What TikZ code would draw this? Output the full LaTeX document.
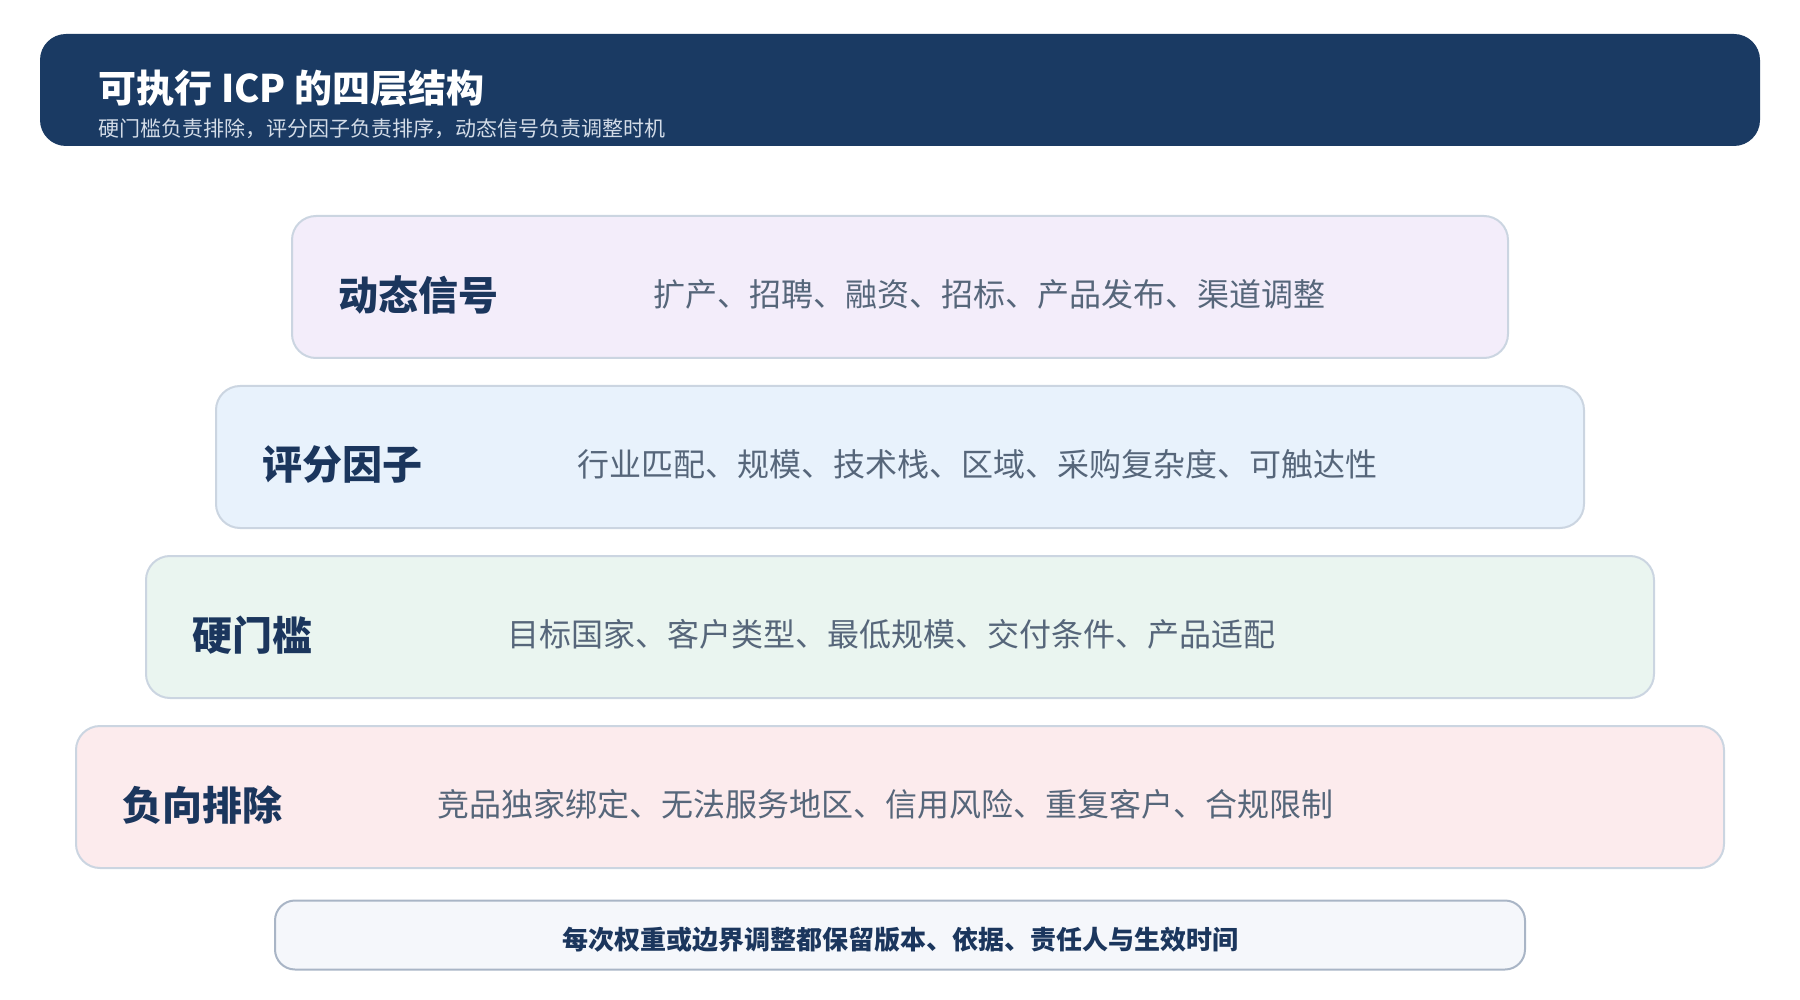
\documentclass[tikz,border=0pt]{standalone}
\usepackage{fontspec}
\setmainfont{Noto Sans CJK SC}
\usetikzlibrary{calc}

\definecolor{headblue}{HTML}{1A3A63}
\definecolor{subgrey}{HTML}{D3DCE8}
\definecolor{titleblue}{HTML}{1B365D}
\definecolor{descgrey}{HTML}{56667A}
\definecolor{layerline}{HTML}{CBD5E1}
\definecolor{noteline}{HTML}{A9B5C6}
\definecolor{signalfill}{HTML}{F3EDFA}
\definecolor{scorefill}{HTML}{E8F2FC}
\definecolor{gatefill}{HTML}{EAF5F0}
\definecolor{excludefill}{HTML}{FCEBED}
\definecolor{notefill}{HTML}{F5F7FB}

\begin{document}
\begin{tikzpicture}[x = 0.5pt, y = -0.5pt, line cap = round, line join = round,
  layer/.style = {draw = layerline, line width = 1pt, rounded corners = 12pt,
    inner sep = 0, minimum height = 71pt},
  layertitle/.style = {anchor = west, inner sep = 0, font = \bfseries\fontsize{20pt}{24pt}\selectfont,
    text = titleblue},
  layertext/.style = {anchor = west, inner sep = 0, font = \fontsize{16pt}{20pt}\selectfont,
    text = descgrey}]
  \useasboundingbox (0, 0) rectangle (1800, 1000);

  % header band
  \node[fill = headblue, rounded corners = 13pt, minimum width = 860pt,
  minimum height = 56pt, inner sep = 0] (head) at (900, 90) {};
  \node[anchor = base west, inner sep = 0, text = white,
  font = \bfseries\fontsize{19pt}{23pt}\selectfont] (headtitle) at (98, 102.5)
  {可执行 ICP 的四层结构};
  \node[anchor = base west, inner sep = 0, text = subgrey,
  font = \fontsize{10.5pt}{13pt}\selectfont] (headsub) at (98, 137)
  {硬门槛负责排除，评分因子负责排序，动态信号负责调整时机};

  % the four layers, narrowest on top
  \node[layer, fill = signalfill, minimum width = 608pt] (signal) at (900, 287) {};
  \node[layer, fill = scorefill, minimum width = 684pt] (score) at (900, 457) {};
  \node[layer, fill = gatefill, minimum width = 754pt] (gate) at (900, 627) {};
  \node[layer, fill = excludefill, minimum width = 824pt] (exclude) at (900, 797) {};

  \node[layertitle] (signaltitle) at ($(signal.west) + (47, 8)$) {动态信号};
  \node[layertext] (signaltext) at ($(signal.west) + (362, 7)$)
  {扩产、招聘、融资、招标、产品发布、渠道调整};

  \node[layertitle] (scoretitle) at ($(score.west) + (47, 8)$) {评分因子};
  \node[layertext] (scoretext) at ($(score.west) + (362, 7)$)
  {行业匹配、规模、技术栈、区域、采购复杂度、可触达性};

  \node[layertitle] (gatetitle) at ($(gate.west) + (47, 8)$) {硬门槛};
  \node[layertext] (gatetext) at ($(gate.west) + (362, 7)$)
  {目标国家、客户类型、最低规模、交付条件、产品适配};

  \node[layertitle] (excludetitle) at ($(exclude.west) + (47, 8)$) {负向排除};
  \node[layertext] (excludetext) at ($(exclude.west) + (362, 7)$)
  {竞品独家绑定、无法服务地区、信用风险、重复客户、合规限制};

  % governance note
  \node[draw = noteline, fill = notefill, line width = 1pt, rounded corners = 10pt,
  minimum width = 625pt, minimum height = 34.5pt, inner sep = 0] (note) at (900, 935) {};
  \node[inner sep = 0, text = titleblue, font = \bfseries\fontsize{13pt}{16pt}\selectfont]
  (notetext) at ($(note.center) + (0, 5)$)
  {每次权重或边界调整都保留版本、依据、责任人与生效时间};
\end{tikzpicture}
\end{document}
